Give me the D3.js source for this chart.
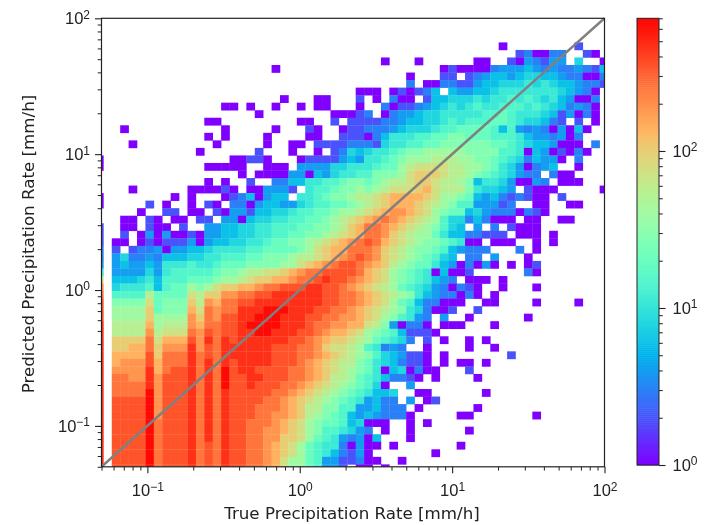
<!DOCTYPE html>
<html>
<head>
<meta charset="utf-8">
<script src="https://cdn.jsdelivr.net/npm/d3@7"></script>
<style>
body { margin: 0; background: #fff; }
svg { display: block; font-family: "DejaVu Sans", sans-serif; filter: blur(0.45px); }
</style>
</head>
<body>
<div id="chart"></div>
<script>
// counts per histogram level, a row below is one letter per bin ('.' = empty bin)
var levelKeys = 'abcdefghijklmnopqrst'.split('');
var levelCounts = [1, 2, 3, 4, 6, 8, 11, 15, 20, 28, 40, 55, 75, 100, 140, 190, 260, 350, 470, 650];

// rows from the top of the plot, grouped by ten bins
var binRows = [
'',
'',
'',
'.. .......... .......... .......... .......... ......a... .....b...',
'.. .......... .......... .......... .......... ........bc aacc..ba.',
'.. .......... .......... .......... ..a...a... ...aa..bad cbdd.f..a',
'.. .......... .........a .......... .........a baaaacddde dcdccdcbe',
'.. .......... .......... .......... .....a...b b.bcdeedef feedccaac',
'.. .......... .......... .......... .....c.aac cbbdeefffg fgfeedccb',
'.. .......... .......... .........a aa.ababce. eddeefgggg gggfedca.',
'.. .......... .......... a...aa...b .a.caa.bee fffgfgghgh gfgedaac.',
'.. .......... ...aa.a..a ..a.aa...a ..cabbcdef gfghgghhhg hgfecdca.',
'.. .......... .......a.. ......aaab c.acddeffg gggghhihgg gfebdaca.',
'.. .......... .aa....... ..aa..b.bb bbccdeeffg hghhhiihgf fecb.b.a.',
'.. .a........ ...a.....a ...ba..abb cccdefffgh hiiiihehdc dcadaea..',
'.. .......... .a.a....a. ...aa..bbb aceggghhii jjiiihhhge ddcdac...',
'.. ..a....... ..a.....a. .aa.bbbbcc cbfgghhiij jjjjjiihgf eedaaa.c.',
'.. .......... a......b.. .a..a.bcfe fgghijjkkk kkjjjjhhga edabaca..',
'a. .......... ....aabba. ..abbbbded gghijkkkll lkkjjihgfc edda.c...',
'a. .......... .aaaaa..aa a.ddddffgg ghiiklmmmm llkkjigfda cde..a...',
'.. .......... .....a.aaa addaedfggh hjjjkmnnnm llkjihgfdc c.caa....',
'.. .......... .a.a..b..c ceegghhijj ijkllmnnml lkjeggfdaa dc.aaa...',
'.. ..a......a aaaba.aadd db.ghhijjk jklmmmnoml lljgffed.b aaa.....a',
'a. .......a.a ...abceade e.gghijjkl lmnoooonmk kjiedecbcb aa.b.....',
'a. ....b.a..a .ba.ccadee ddfghhiijk lmnooonmlk jhhdddbc.. aa..aa...',
'.. ...a..bb.a a.baddbeef fghhiijkkl mnopponmkj iiefdcccac ba.......',
'.. .aa.ba.aa. bb.ddaeffg ghhiijklmn opqponmlkh ffcecaaa.a a..aa....',
'b. .aa.baa.b. .ddeeffggh hhiijjklno qqponmlkjh fe.d.c.baa a........',
'b. .b.adadaab addeeffggh hiijjklmno qqpnmlkkig eeccbbb.aa a.a......',
'b. aa.ababbbd adeeffgghi ijjklmnopq rqonmlkjji hgaa.aaa.. a.a......',
'c. b.bccdadde efgggghhii iijkmnooqq qpnmlkjjih edccc...c. a........',
'c. dfccdceeef fgghhhiijj jkllmnopqr qpnmlkjihf e.cc.d...a',
'd. deddedgggh gghiiijjjj kkmnopqrrq ponlkjiige dacada.a.a b........',
'g. ddddfdghhh hhijjkllmm nopqqrrrrq onmkjihgae aab......c a........',
'm. eeefgehhhi iijkklmnno opqqrsrrqp onmkjihged c.aaa.a...',
'p. fggghehiik jkmnnoopqq rrrssrrqpo nmlkihgfdc acba..a... a........',
'q. hhhhliiiim lnnppqqrrs sssssrrqqp onmlkjgedc caca.a....',
'r. jjjjmijjjn lpoqqrrsss sssssrrqqp onmkihecca aa..aa.... a....a...',
'r. kkkknijjjo mqpqqssstt tsssrrqqpo nmlkjgfcaa b..b......',
'r. kkkknkkkkp nqprrssttt sssrrqqppo nmkjhgdc.d ..a......a',
's. lllloklllp oqqrrstttt sssrqqppoo mljdacca.a aa...a....',
's. llllplmmmq prqrrsstts ssrrqpoonm kjihebbba.',
's. nnnnqmooor psqsrsssss srrqponnml kihgfc.b.a ..a.a.....',
's. nnooqnppps prqssssssr rrqqpnmmlk hgcdc..a.. ..a..a....',
's. oooornqqqs qrqssssssr rrqqponmlk jhfedbba.a .......b..',
's. oppproqqqs qsqsrssssr rrqponmllj igfecbba.a .aa.a.....',
's. ppppsoqrrs qsqtrssrrr rqqponmlkj igaefacaa. ..b.......',
's. qqppsprrrs qsqtrrssrr rqqponllki hgeccba.a. ...a......',
's. qqqqsprrrs qsqtrrsrrr qqponmlkji hfa..d....',
's. qqqqtprrrs qsqsrrrrrq qponmlkjih geef..aa.. ....a.....',
's. rrrrtprrrs qsqsrrrrqq ponmlkjihg decc.d.ab.',
's. rrrrtprrrs qsqsrrrqqq ponlljjhhd deccc.a... ...a......',
's. rrrrtprrrs qsqsrrrqqp ponlkjihed edccca.... .aa....... a........',
's. rrrrtqrrrs qsqsrrqqqp onmkjiihef aaa..a.a..',
's. rrrrtqrrrs qsqsrrqqpp onmkjhhgfd c.a..a.... ..a.......',
's. rrrrtqrrrs qsqsrrqqpp nnmkihgdcd ae...a....',
's. rrrrtqrrrs qrqsrrqqpo nmkihggcad aa.a...... .a........',
's. rrrrtqrrrs qrqsrrqqpo nmkihgecbd a.......a.',
's. rrrrtqrrrs qrqsrrqqpo mkkihddbbc aa..a.....',
's. rrrrtqrrrs qrqsrrqqpo mkkihddb.a a.a.......'
];

var axisDomain = [0.05, 100];
var identityLine = [0.05, 100];
var axisMajors = [0.1, 1, 10, 100];
var axisMinors = [0.05, 0.06, 0.07, 0.08, 0.09, 0.2, 0.3, 0.4, 0.5, 0.6, 0.7, 0.8, 0.9, 2, 3, 4, 5, 6, 7, 8, 9, 20, 30, 40, 50, 60, 70, 80, 90];
var colorDomain = [1, 700];
var colorMajors = [1, 10, 100];
var colorMinors = [2, 3, 4, 5, 6, 7, 8, 9, 20, 30, 40, 50, 60, 70, 80, 90, 200, 300, 400, 500, 600, 700];

var width = 707, height = 525;
var plot = { left: 101.5, right: 604.5, top: 18.3, bottom: 466.8 };
var bar = { left: 637, right: 659 };
var tickColor = '#222';

// log10 of the first bin edge and the bin width
var xFirst = -1.344, xStep = 0.0552;
var yFirst = 1.989, yStep = 0.05546;

// matplotlib rainbow
function rainbow(t) {
  var r = Math.abs(2 * t - 0.5), g = Math.sin(Math.PI * t), b = Math.cos(Math.PI * t / 2);
  return d3.rgb(Math.min(r, 1) * 255, g * 255, b * 255).formatHex();
}

var svg = d3.select('#chart').append('svg').attr('width', width).attr('height', height);

var x = d3.scaleLog().domain(axisDomain).range([plot.left, plot.right]);
var y = d3.scaleLog().domain(axisDomain).range([plot.bottom, plot.top]);
var colorPos = d3.scaleLog().domain(colorDomain).range([0, 1]);
var colorAxisY = d3.scaleLog().domain(colorDomain).range([465, plot.top]);

svg.append('clipPath').attr('id', 'plotClip').append('rect')
  .attr('x', plot.left).attr('y', plot.top)
  .attr('width', plot.right - plot.left).attr('height', plot.bottom - plot.top);

var cells = [];
binRows.forEach(function(row, j) {
  row.replace(/ /g, '').split('').forEach(function(key, i) {
    var level = levelKeys.indexOf(key);
    if (level >= 0) cells.push({ i: i, j: j, count: levelCounts[level] });
  });
});

svg.append('g').attr('clip-path', 'url(#plotClip)').selectAll('rect')
  .data(cells).enter().append('rect')
  .attr('x', function(d) { return x(Math.pow(10, xFirst + d.i * xStep)); })
  .attr('y', function(d) { return y(Math.pow(10, yFirst - d.j * yStep)); })
  .attr('width', function(d) { return x(Math.pow(10, xFirst + (d.i + 1) * xStep)) - x(Math.pow(10, xFirst + d.i * xStep)) + 0.3; })
  .attr('height', function(d) { return y(Math.pow(10, yFirst - (d.j + 1) * yStep)) - y(Math.pow(10, yFirst - d.j * yStep)) + 0.3; })
  .attr('fill', function(d) { return rainbow(colorPos(d.count)); });

svg.append('line')
  .attr('x1', x(identityLine[0])).attr('y1', y(identityLine[0]))
  .attr('x2', x(identityLine[1])).attr('y2', y(identityLine[1]))
  .attr('stroke', '#808080').attr('stroke-width', 2.5);

// writes 10 with a raised exponent into the tick labels
function powerLabels(g) {
  g.selectAll('.tick text').each(function(d) {
    var power = Math.round(Math.log10(d));
    var label = d3.select(this).text('10').attr('fill', tickColor).style('font-size', '16.5px');
    label.append('tspan').attr('dy', '-0.45em').style('font-size', '12px')
      .text(power < 0 ? '\u2212' + (-power) : power);
  });
}

function drawAxis(axisFn, scale, transform, majors, minors, padding) {
  var minor = svg.append('g').attr('transform', transform)
    .call(axisFn(scale).tickValues(minors).tickSize(3.8).tickFormat(''));
  minor.select('.domain').remove();
  minor.selectAll('line').attr('stroke', tickColor).attr('stroke-width', 1);
  var major = svg.append('g').attr('transform', transform)
    .call(axisFn(scale).tickValues(majors).tickSize(6.5).tickPadding(padding));
  major.select('.domain').remove();
  major.selectAll('line').attr('stroke', tickColor).attr('stroke-width', 1.1);
  major.call(powerLabels);
}

drawAxis(d3.axisBottom, x, 'translate(0,' + plot.bottom + ')', axisMajors, axisMinors, 11);
drawAxis(d3.axisLeft, y, 'translate(' + plot.left + ',0)', axisMajors, axisMinors, 5);

svg.append('rect')
  .attr('x', plot.left).attr('y', plot.top)
  .attr('width', plot.right - plot.left).attr('height', plot.bottom - plot.top)
  .attr('fill', 'none').attr('stroke', tickColor).attr('stroke-width', 1.2);

// colorbar
var barSteps = d3.range(0, 1, 1 / 220);
svg.append('g').selectAll('rect').data(barSteps).enter().append('rect')
  .attr('x', bar.left).attr('width', bar.right - bar.left)
  .attr('y', function(t) { return colorAxisY(colorPos.invert(t + 1 / 220)); })
  .attr('height', function(t) { return colorAxisY(colorPos.invert(t)) - colorAxisY(colorPos.invert(t + 1 / 220)) + 0.5; })
  .attr('fill', function(t) { return rainbow(t + 0.5 / 220); });

drawAxis(d3.axisRight, colorAxisY, 'translate(' + bar.right + ',0)', colorMajors, colorMinors, 7);

svg.append('rect')
  .attr('x', bar.left).attr('y', plot.top)
  .attr('width', bar.right - bar.left).attr('height', 465 - plot.top)
  .attr('fill', 'none').attr('stroke', tickColor).attr('stroke-width', 1);

svg.append('text')
  .attr('x', 352).attr('y', 519)
  .attr('text-anchor', 'middle').attr('fill', tickColor).style('font-size', '16.7px')
  .text('True Precipitation Rate [mm/h]');

svg.append('text')
  .attr('transform', 'translate(34,244) rotate(-90)')
  .attr('text-anchor', 'middle').attr('fill', tickColor).style('font-size', '16.7px')
  .text('Predicted Precipitation Rate [mm/h]');
</script>
</body>
</html>
